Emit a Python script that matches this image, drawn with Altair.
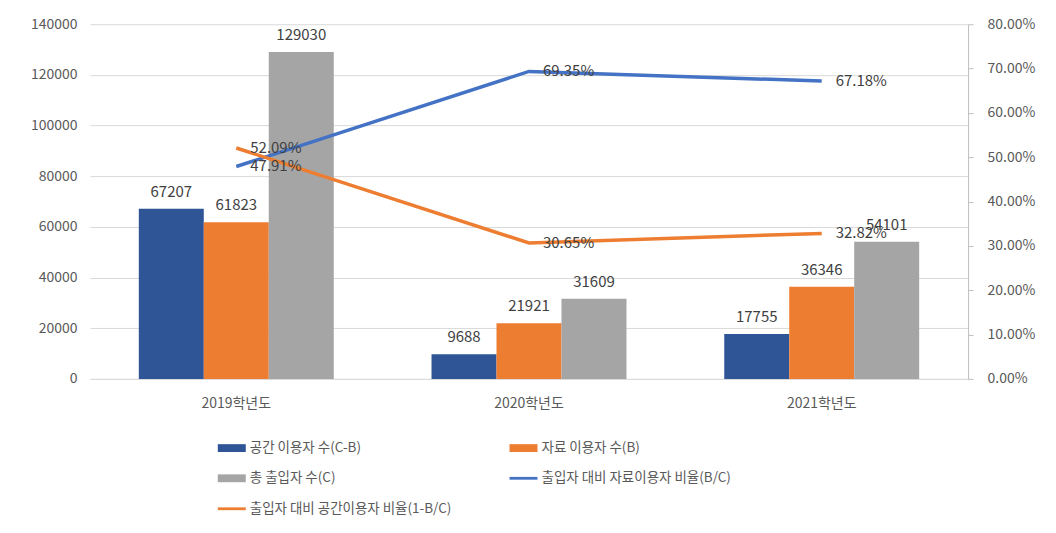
import altair as alt
import pandas as pd

years = ["2019학년도", "2020학년도", "2021학년도"]
bar_series = ["공간 이용자 수(C-B)", "자료 이용자 수(B)", "총 출입자 수(C)"]
space_users = [67207, 9688, 17755]
data_users = [61823, 21921, 36346]
total_users = [129030, 31609, 54101]
line_series = ["출입자 대비 자료이용자 비율(B/C)", "출입자 대비 공간이용자 비율(1-B/C)"]
ratio_data = [0.4791, 0.6935, 0.6718]
ratio_space = [0.5209, 0.3065, 0.3282]

all_series = bar_series + line_series
colors = ["#2F5597", "#ED7D31", "#A5A5A5", "#4472C4", "#ED7D31"]
bar_path = "M-1,-0.28H1V0.28H-1Z"
line_path = "M-1,-0.1H1V0.1H-1Z"
shapes = [bar_path, bar_path, bar_path, line_path, line_path]

rows = []
for i, y in enumerate(years):
    for s, v in zip(bar_series, [space_users[i], data_users[i], total_users[i]]):
        rows.append({"year": y, "series": s, "value": v})
bars_df = pd.DataFrame(rows)

lrows = []
for i, y in enumerate(years):
    lrows.append({"year": y, "series": line_series[0], "ratio": ratio_data[i]})
    lrows.append({"year": y, "series": line_series[1], "ratio": ratio_space[i]})
lines_df = pd.DataFrame(lrows)

legend_df = pd.DataFrame({"series": all_series})

FONT = "Noto Sans CJK KR"
color_scale = alt.Scale(domain=all_series, range=colors)

legend_props = dict(orient="none", legendX=128, legendY=410, columns=2, direction="horizontal",
                    columnPadding=57, rowPadding=9.5, symbolSize=784,
                    symbolStrokeWidth=0, symbolOpacity=1, labelFontSize=13.5,
                    labelColor="#595959", labelFont=FONT, labelLimit=400,
                    labelOffset=4)

x_enc = alt.X("year:N", sort=years, title=None,
              scale=alt.Scale(paddingInner=0.334, paddingOuter=0.167),
              axis=alt.Axis(labelAngle=0, ticks=False, domainColor="#D9D9D9",
                            labelPadding=18, labelFontSize=14, labelColor="#595959",
                            labelFont=FONT))

y_left = alt.Y("value:Q", title=None,
               scale=alt.Scale(domain=[0, 140000]),
               axis=alt.Axis(values=list(range(0, 140001, 20000)), format="d",
                             domain=False, ticks=False, gridColor="#D9D9D9",
                             labelPadding=13, labelFontSize=14, labelColor="#595959",
                             labelFont=FONT))

bars = alt.Chart(bars_df).mark_bar().encode(
    x=x_enc,
    xOffset=alt.XOffset("series:N", sort=bar_series, scale=alt.Scale(paddingInner=0, paddingOuter=0)),
    y=y_left,
    color=alt.Color("series:N", scale=color_scale, title=None, legend=alt.Legend(**legend_props)),
)

bar_text = alt.Chart(bars_df).mark_text(baseline="bottom", dy=-9, fontSize=15,
                                         color="#404040", font=FONT).encode(
    x=alt.X("year:N", sort=years),
    xOffset=alt.XOffset("series:N", sort=bar_series),
    y=alt.Y("value:Q"),
    text=alt.Text("value:Q", format="d"),
)

bar_layer = alt.layer(bars, bar_text)

y_right = alt.Y("ratio:Q", title=None,
                scale=alt.Scale(domain=[0, 0.8]),
                axis=alt.Axis(orient="right", values=[i / 10 for i in range(9)], format=".2%",
                              grid=False, domainColor="#BFBFBF", tickColor="#BFBFBF",
                              tickSize=5, labelPadding=14, labelFontSize=14,
                              labelColor="#595959", labelFont=FONT))

lines = alt.Chart(lines_df).mark_line(strokeWidth=3.5).encode(
    x=alt.X("year:N", sort=years),
    y=y_right,
    color=alt.Color("series:N", scale=color_scale, title=None, legend=alt.Legend(**legend_props)),
    detail="series:N",
)

line_text = alt.Chart(lines_df).mark_text(align="left", baseline="middle", dx=14,
                                           fontSize=15, color="#404040", font=FONT).encode(
    x=alt.X("year:N", sort=years),
    y=alt.Y("ratio:Q"),
    text=alt.Text("ratio:Q", format=".2%"),
)

legend_layer = alt.Chart(legend_df).mark_point(filled=True, opacity=0).encode(
    color=alt.Color("series:N", scale=color_scale, title=None,
                    legend=alt.Legend(**legend_props)),
    shape=alt.Shape("series:N", scale=alt.Scale(domain=all_series, range=shapes), title=None,
                    legend=alt.Legend(**legend_props)),
)

line_layer = alt.layer(lines, line_text)

chart = alt.layer(bar_layer, line_layer, legend_layer).resolve_scale(
    y="independent"
).properties(
    width=879, height=355,
    padding={"left": 82, "top": 16, "right": 80, "bottom": 150},
    autosize=alt.AutoSizeParams(type="none"),
    background="white",
).configure_view(stroke=None)

chart.save("out.html", embed_options={"renderer": "svg", "actions": False})
